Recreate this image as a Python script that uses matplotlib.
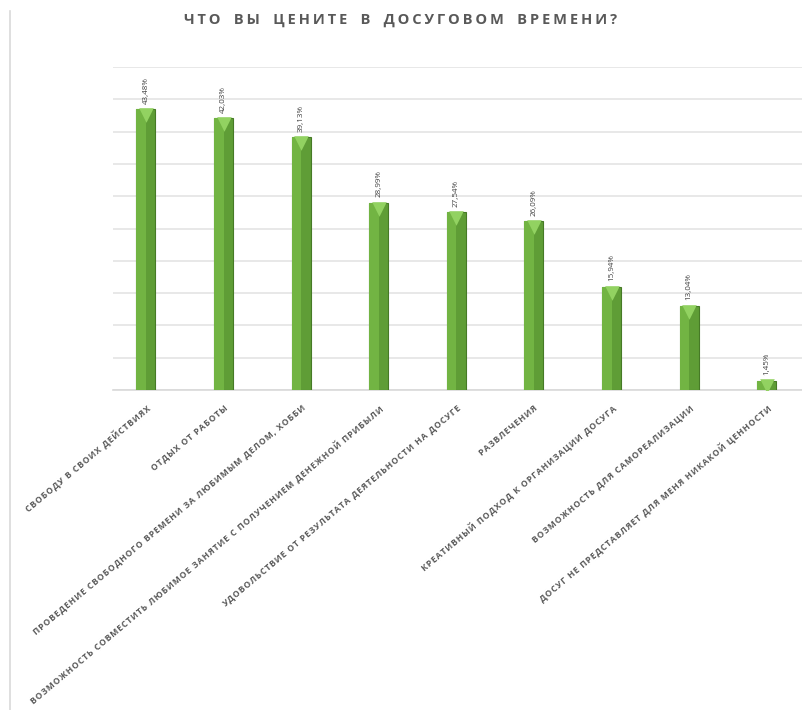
import matplotlib
matplotlib.use('Agg')
import matplotlib.pyplot as plt
from matplotlib.lines import Line2D

# survey answers and shares (%)
categories = [
    'СВОБОДУ В СВОИХ ДЕЙСТВИЯХ',
    'ОТДЫХ ОТ РАБОТЫ',
    'ПРОВЕДЕНИЕ СВОБОДНОГО ВРЕМЕНИ ЗА ЛЮБИМЫМ ДЕЛОМ, ХОББИ',
    'ВОЗМОЖНОСТЬ СОВМЕСТИТЬ ЛЮБИМОЕ ЗАНЯТИЕ С ПОЛУЧЕНИЕМ ДЕНЕЖНОЙ ПРИБЫЛИ',
    'УДОВОЛЬСТВИЕ ОТ РЕЗУЛЬТАТА ДЕЯТЕЛЬНОСТИ НА ДОСУГЕ',
    'РАЗВЛЕЧЕНИЯ',
    'КРЕАТИВНЫЙ ПОДХОД К ОРГАНИЗАЦИИ ДОСУГА',
    'ВОЗМОЖНОСТЬ ДЛЯ САМОРЕАЛИЗАЦИИ',
    'ДОСУГ НЕ ПРЕДСТАВЛЯЕТ ДЛЯ МЕНЯ НИКАКОЙ ЦЕННОСТИ',
]
values = [43.48, 42.03, 39.13, 28.99, 27.54, 26.09, 15.94, 13.04, 1.45]
title = 'ЧТО ВЫ ЦЕНИТЕ В ДОСУГОВОМ ВРЕМЕНИ?'


def spaced(s, gap='\u200a'):
    # crude letter spacing, like the excel label style
    return gap.join(s)


plt.rcParams['font.family'] = ['Open Sans', 'DejaVu Sans']

fig = plt.figure(figsize=(8.02, 7.10), dpi=100)
ax = fig.add_axes([113 / 802, 320 / 710, 689 / 802, 323 / 710])

x = list(range(len(values)))
w = 0.245
ax.bar(x, values, width=w, color='#5f9d36', edgecolor='#467a26', linewidth=0.8, zorder=3)
# lighter left half to fake the bevel
ax.bar([i - w / 4 for i in x], values, width=w / 2, color='#72b443', linewidth=0, zorder=3)
ax.scatter(x, [v - 0.9 for v in values], marker='v', s=110, color='#92d261', linewidth=0, zorder=4)

for i, v in zip(x, values):
    ax.annotate(('%.2f%%' % v).replace('.', ','), (i, v), xytext=(0, 4), textcoords='offset points',
                rotation=90, ha='center', va='bottom', fontsize=5.8, color='#404040')

ax.set_xlim(-0.425, 8.454)
ax.set_ylim(0, 50)
ax.set_yticks(range(0, 51, 5))
ax.yaxis.grid(True, color='#e6e6e6', linewidth=1.3, zorder=0)
ax.tick_params(axis='y', left=False, labelleft=False)
ax.tick_params(axis='x', bottom=False, pad=6)
for s in ['top', 'right', 'left']:
    ax.spines[s].set_visible(False)
ax.spines['bottom'].set_color('#d9d9d9')
ax.spines['bottom'].set_linewidth(1.2)

ax.set_xticks(x)
ax.set_xticklabels([spaced(c) for c in categories], rotation=40, ha='right', va='top',
                   rotation_mode='anchor', fontsize=6.2, fontweight='bold', color='#595959')

fig.text(401 / 802, 1 - 20 / 710, spaced(title, '\u2009').replace('\u2009 \u2009', '\u2009  \u2009'),
         ha='center', va='center', fontsize=10.5, fontweight='bold', color='#595959')

fig.add_artist(Line2D([10 / 802, 10 / 802], [0, 0.985], transform=fig.transFigure,
                      color='#d9d9d9', linewidth=1.2))

fig.savefig('out.png', dpi=100, facecolor='white')
